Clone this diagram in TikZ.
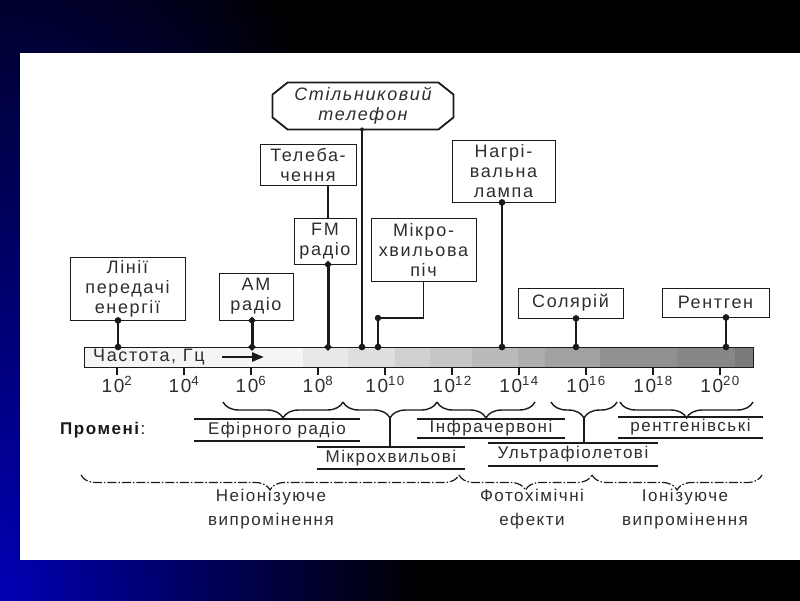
\documentclass[tikz,border=0pt]{standalone}
\usepackage{fontspec}
\setmainfont{Liberation Sans}[LetterSpace=9]
\usetikzlibrary{arrows.meta, decorations.pathreplacing, calc}
\definecolor{sinij}{HTML}{0000B4}
\definecolor{chornyi}{HTML}{1A1A1A}
\definecolor{tekst}{HTML}{2E2E2E}
\tikzset{
  prylad/.style={rectangle, draw=chornyi, line width=0.9pt, fill=white, align=center,
                 inner sep=0pt, text=tekst, font=\fontsize{18}{20}\selectfont},
  nizhka/.style={line width=2pt, draw=chornyi, {Circle[length=6.5pt]}-{Circle[length=6.5pt]},
                 shorten <=-3.25pt, shorten >=-3.25pt},
  strilka/.style={line width=2.6pt, draw=chornyi, -{Triangle[length=12pt, width=9pt]}},
  osi/.style={anchor=base, inner sep=0pt, text=tekst, font=\fontsize{19}{21}\selectfont},
  promin/.style={rectangle, inner sep=0pt, text=tekst, font=\fontsize{17}{20}\selectfont},
  liniia/.style={line width=1.5pt, draw=chornyi},
  dugka/.style={decorate, decoration={brace, mirror, amplitude=16pt}, line width=1.4pt, draw=chornyi},
  velyka/.style={decoration={brace, mirror, amplitude=15pt}, line width=1.2pt,
                 dash pattern=on 9pt off 2pt on 1.5pt off 2pt},
  velykyi/.style={align=center, inner sep=0pt, text=tekst, font=\fontsize{17}{24}\selectfont}
}
\begin{document}
\begin{tikzpicture}[x=1pt, y=-1pt]
  % tlo slaidu
  \useasboundingbox (0,0) rectangle (800,600);
  \fill[black] (-6,-6) rectangle (806,606);
  \begin{scope}
    \clip (-6,-6) rectangle (806,606);
    \shade[inner color=sinij, outer color=black] (-420,-200) rectangle (420,1400);
  \end{scope}
  \fill[white] (20,53) rectangle (800,560);

  % shkala chastot
  \foreach \a/\b/\g in {84/303/4, 303/348/9, 348/395/13, 395/430/18, 430/472/22, 472/518/27,
                        518/545/32, 545/600/37, 600/677/43, 677/735/47, 735/753/52}
    \fill[black!\g] (\a,347) rectangle (\b,367);
  \node[draw=chornyi, line width=0.9pt, minimum width=669pt, minimum height=20pt, inner sep=0pt] (chastota) at (418.5,357) {};
  \node[anchor=west, inner sep=0pt, text=tekst, font=\fontsize{18}{20}\selectfont] (napys) at (93,357) {Частота, Гц};
  \coordinate (strA) at (222,357);
  \coordinate (strB) at (264,357);
  \draw[strilka] (strA) -- (strB);
  \foreach \p [count=\i from 0] in {2,4,...,20} {
    \draw[line width=1.5pt, draw=chornyi] (117+67*\i,367) -- ++(0,8);
    \node[osi] at (117+67*\i,392) {10\textsuperscript{\p}};
  }

  % prylady
  \node[prylad, minimum width=115pt, minimum height=63pt] (linii) at (127.5,288.5) {Лінії\\передачі\\енергії};
  \node[prylad, minimum width=74pt, minimum height=47pt] (am) at (256,296.5) {АМ\\радіо};
  \node[prylad, minimum width=62pt, minimum height=46pt] (fm) at (325,241) {FM\\радіо};
  \node[prylad, minimum width=96pt, minimum height=41pt] (tb) at (308,164.5) {Телеба-\\чення};
  \node[prylad, draw=none, fill=none, minimum width=180pt, minimum height=46pt,
        font=\itshape\fontsize{18}{20}\selectfont] (stilnyk) at (363,106) {Стільниковий\\телефон};
  \draw[line width=1.8pt, draw=chornyi] ([yshift=-12pt]stilnyk.north west) -- ([xshift=15pt]stilnyk.north west)
    -- ([xshift=-15pt]stilnyk.north east) -- ([yshift=-12pt]stilnyk.north east)
    -- ([yshift=12pt]stilnyk.south east) -- ([xshift=-15pt]stilnyk.south east)
    -- ([xshift=15pt]stilnyk.south west) -- ([yshift=12pt]stilnyk.south west) -- cycle;
  \node[prylad, minimum width=103pt, minimum height=62pt] (lampa) at (503.5,171) {Нагрі-\\вальна\\лампа};
  \node[prylad, minimum width=105pt, minimum height=63pt] (mikro) at (423.5,249.5) {Мікро-\\хвильова\\піч};
  \node[prylad, minimum width=105pt, minimum height=30pt] (solarii) at (570.5,303) {Солярій};
  \node[prylad, minimum width=107pt, minimum height=29pt] (rentgen) at (715.5,302.5) {Рентген};

  % nizhky do shkaly
  \coordinate (pLinii) at (118,347);
  \coordinate (pAM) at (252,347);
  \coordinate (pFM) at (328,347);
  \coordinate (pStil) at (362,347);
  \coordinate (kolino) at (378,318);
  \coordinate (pMikro) at (378,347);
  \coordinate (pLampa) at (502,347);
  \coordinate (pSol) at (576,347);
  \coordinate (pRent) at (726,347);
  \draw[nizhka] (linii.south -| pLinii) -- (pLinii);
  \draw[nizhka, line width=3pt] (am.south -| pAM) -- (pAM);
  \draw[nizhka, line width=3pt] (fm.south -| pFM) -- (pFM);
  \draw[liniia, line width=2pt] (tb.south -| pFM) -- (fm.north -| pFM);
  \draw[nizhka, {Circle[length=4pt]}-{Circle[length=6.5pt]}, shorten <=-2pt] (stilnyk.south -| pStil) -- (pStil);
  \draw[nizhka, line width=1.5pt, -{Circle[length=6.5pt]}, shorten <=0pt] (mikro.south) |- (kolino) -- (pMikro);
  \fill[chornyi] (kolino) circle (3.25);
  \draw[nizhka] (lampa.south -| pLampa) -- (pLampa);
  \draw[nizhka] (solarii.south -| pSol) -- (pSol);
  \draw[nizhka] (rentgen.south -| pRent) -- (pRent);

  % promeni
  \node[anchor=west, inner sep=0pt, text=chornyi, font=\fontsize{17}{20}\selectfont] (promeni) at (60,430) {\textbf{Промені}:};
  \node[promin, minimum width=166pt, minimum height=22pt] (efir) at (277,430) {Ефірного радіо};
  \node[promin, minimum width=148pt, minimum height=22pt] (mikrohv) at (391,458) {Мікрохвильові};
  \node[promin, minimum width=148pt, minimum height=19pt] (infra) at (491,428.5) {Інфрачервоні};
  \node[promin, minimum width=170pt, minimum height=23pt] (uf) at (573,454.5) {Ультрафіолетові};
  \node[promin, minimum width=145pt, minimum height=21pt] (rentg) at (690.5,427.5) {рентгенівські};
  \foreach \n in {efir, mikrohv, infra, uf, rentg}
    \draw[liniia] (\n.north west) -- (\n.north east) (\n.south west) -- (\n.south east);
  \foreach \a/\b in {223/343, 343/437, 437/535, 551/617, 620/753}
    \draw[dugka] (\a,402) -- (\b,402);
  \coordinate (vMikro) at (390,418);
  \coordinate (vUF) at (584,418);
  \draw[liniia] (vMikro) -- (mikrohv.north -| vMikro);
  \draw[liniia, line width=2.2pt] (vUF) -- (uf.north -| vUF);

  % vydy vyprominennia
  \foreach \a/\b in {81/459, 459/592, 592/762}
    \draw[dugka, velyka] (\a,475) -- (\b,475);
  \node[velykyi] (neion) at (271,509) {Неіонізуюче\\випромінення};
  \node[velykyi] (foto) at (532,509) {Фотохімічні\\ефекти};
  \node[velykyi] (ioniz) at (685,509) {Іонізуюче\\випромінення};
\end{tikzpicture}
\end{document}
